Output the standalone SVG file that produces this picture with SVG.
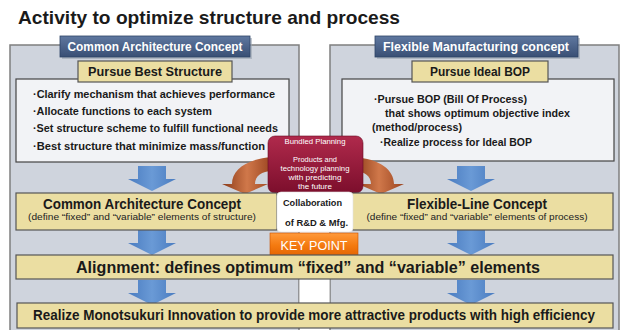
<svg xmlns="http://www.w3.org/2000/svg" width="624" height="330" viewBox="0 0 624 330">
<style>
.t{font-family:"Liberation Sans",Arial,sans-serif;font-weight:bold;fill:#1a1a1a}
.w{fill:#ffffff}
.panel{fill:#cfd4dd;stroke:#7f7f7f;stroke-width:1.5}
.gold{fill:#ebdea2;stroke:#555;stroke-width:1.2}
.inner{fill:#f2f3f6;stroke:#444;stroke-width:1.2}
.tab{fill:url(#tabg);stroke:#2e4466;stroke-width:0.8}
</style>
<defs>
<linearGradient id="tabg" x1="0" y1="0" x2="0" y2="1"><stop offset="0" stop-color="#5f78a0"/><stop offset="1" stop-color="#394f74"/></linearGradient>
<linearGradient id="blue" x1="0" y1="0" x2="1" y2="0"><stop offset="0" stop-color="#4a7cc0"/><stop offset="0.5" stop-color="#6a9ad6"/><stop offset="1" stop-color="#4a7cc0"/></linearGradient>
<linearGradient id="brown" x1="0" y1="0" x2="1" y2="0"><stop offset="0" stop-color="#8a3a18"/><stop offset="0.5" stop-color="#d0784a"/><stop offset="1" stop-color="#9a4420"/></linearGradient>
<linearGradient id="maroon" x1="0" y1="0" x2="0" y2="1"><stop offset="0" stop-color="#b02a4c"/><stop offset="1" stop-color="#7c0e2c"/></linearGradient>
<linearGradient id="orange" x1="0" y1="0" x2="0" y2="1"><stop offset="0" stop-color="#ff9a3c"/><stop offset="0.5" stop-color="#f47a10"/><stop offset="1" stop-color="#e06000"/></linearGradient>
<path id="darr" d="M-14,0 H14 V13 H24 L0,25 L-24,13 H-14 Z" fill="url(#blue)"/>
</defs>
<rect width="624" height="330" fill="#ffffff"/>
<text class="t" x="18" y="24" font-size="19" textLength="382" lengthAdjust="spacingAndGlyphs">Activity to optimize structure and process</text>

<g id="left-panel">
<rect class="panel" x="10" y="45" width="289" height="295"/>
<rect class="inner" x="16" y="79" width="273" height="83"/>
<text class="t" font-size="11.5" x="33" y="98" textLength="242" lengthAdjust="spacingAndGlyphs">·Clarify  mechanism that achieves performance</text>
<text class="t" font-size="11.5" x="33" y="115" textLength="179" lengthAdjust="spacingAndGlyphs">·Allocate functions to each system</text>
<text class="t" font-size="11.5" x="33" y="132" textLength="245" lengthAdjust="spacingAndGlyphs">·Set structure scheme to fulfill functional needs</text>
<text class="t" font-size="11.5" x="33" y="150" textLength="232" lengthAdjust="spacingAndGlyphs">·Best structure that minimize mass/function</text>
</g>
<g id="right-panel">
<rect class="panel" x="330" y="45" width="289" height="295"/>
<rect class="inner" x="342" y="79" width="272" height="82"/>
<text class="t" font-size="11.5" x="374" y="103" textLength="153" lengthAdjust="spacingAndGlyphs">·Pursue BOP (Bill Of Process)</text>
<text class="t" font-size="11.5" x="385" y="117" textLength="185" lengthAdjust="spacingAndGlyphs">that shows optimum objective index</text>
<text class="t" font-size="11.5" x="372" y="131" textLength="90" lengthAdjust="spacingAndGlyphs">(method/process)</text>
<text class="t" font-size="11.5" x="380" y="146" textLength="152" lengthAdjust="spacingAndGlyphs">·Realize process for Ideal BOP</text>
</g>

<g id="tab-left">
<rect x="62" y="38" width="190" height="21" fill="#9aa3b0" opacity="0.6"/>
<rect class="tab" x="60" y="36" width="190" height="21"/>
<text class="t w" font-size="12" x="155" y="51" text-anchor="middle" textLength="175" lengthAdjust="spacingAndGlyphs">Common Architecture Concept</text>
</g>
<g id="tab-right">
<rect x="377" y="38" width="203" height="21" fill="#9aa3b0" opacity="0.6"/>
<rect class="tab" x="375" y="36" width="203" height="21"/>
<text class="t w" font-size="12" x="476" y="51" text-anchor="middle" textLength="186" lengthAdjust="spacingAndGlyphs">Flexible Manufacturing concept</text>
</g>
<g id="pursue-best">
<rect class="gold" x="78" y="61" width="154" height="21"/>
<text class="t" font-size="12.5" x="155" y="76" text-anchor="middle" textLength="134" lengthAdjust="spacingAndGlyphs">Pursue Best Structure</text>
</g>
<g id="pursue-bop">
<rect class="gold" x="412" y="61" width="136" height="21"/>
<text class="t" font-size="12.5" x="480" y="76" text-anchor="middle" textLength="100" lengthAdjust="spacingAndGlyphs">Pursue Ideal BOP</text>
</g>

<g id="connectors">
<use href="#darr" x="152" y="166"/>
<use href="#darr" x="471" y="166"/>
<use href="#darr" x="152" y="230"/>
<use href="#darr" x="471" y="230"/>
<use href="#darr" x="152" y="280"/>
<use href="#darr" x="471" y="280"/>
<path d="M232,184 C232,170 246,159 272,157 L272,171 C262,171 255,176 255,184 L268,184 L245,194 L222,184 Z" fill="url(#brown)"/>
<path d="M394,184 C394,170 380,159 354,157 L354,171 C364,171 371,176 371,184 L358,184 L381,194 L404,184 Z" fill="url(#brown)"/>
</g>

<g id="bundled">
<rect x="268" y="136" width="95" height="57" rx="7" fill="url(#maroon)" stroke="#6a0a24" stroke-width="0.6"/>
<g font-family="Liberation Sans,Arial,sans-serif" font-size="7" fill="#ffffff" text-anchor="middle">
<text x="315" y="144" textLength="61" lengthAdjust="spacingAndGlyphs">Bundled Planning</text>
<text x="315" y="162" textLength="44" lengthAdjust="spacingAndGlyphs">Products and</text>
<text x="315" y="171" textLength="69" lengthAdjust="spacingAndGlyphs">technology planning</text>
<text x="315" y="180" textLength="53" lengthAdjust="spacingAndGlyphs">with predicting</text>
<text x="315" y="189" textLength="34" lengthAdjust="spacingAndGlyphs">the future</text>
</g>
</g>

<g id="cac-bar">
<rect class="gold" x="16" y="193" width="261" height="37"/>
<text class="t" font-size="15" x="142" y="209" text-anchor="middle" textLength="198" lengthAdjust="spacingAndGlyphs">Common Architecture Concept</text>
<text font-family="Liberation Sans,Arial,sans-serif" font-size="9" fill="#222" x="142" y="220" text-anchor="middle" textLength="228" lengthAdjust="spacingAndGlyphs">(define “fixed” and “variable” elements of structure)</text>
</g>
<g id="flc-bar">
<rect class="gold" x="340" y="193" width="273" height="37"/>
<text class="t" font-size="15" x="477" y="209" text-anchor="middle" textLength="140" lengthAdjust="spacingAndGlyphs">Flexible-Line Concept</text>
<text font-family="Liberation Sans,Arial,sans-serif" font-size="9" fill="#222" x="477" y="220" text-anchor="middle" textLength="221" lengthAdjust="spacingAndGlyphs">(define “fixed” and “variable” elements of process)</text>
</g>
<g id="collab">
<rect x="277" y="192" width="76" height="40" rx="4" fill="#ffffff" stroke="#e0e0e0" stroke-width="0.6"/>
<text class="t" font-size="8.5" x="283" y="206" textLength="59" lengthAdjust="spacingAndGlyphs">Collaboration</text>
<text class="t" font-size="8.5" x="285" y="226" textLength="63" lengthAdjust="spacingAndGlyphs">of R&amp;D &amp; Mfg.</text>
</g>
<g id="keypoint">
<rect x="270" y="233" width="88" height="25" fill="url(#orange)" stroke="#c85000" stroke-width="0.6"/>
<text font-family="Liberation Sans,Arial,sans-serif" font-size="13" fill="#ffffff" x="314" y="250" text-anchor="middle" textLength="67" lengthAdjust="spacingAndGlyphs">KEY  POINT</text>
</g>

<g id="alignment">
<rect x="299.5" y="279" width="30" height="24" fill="#ffffff"/>
<rect class="gold" x="16" y="255" width="597" height="24"/>
<text class="t" font-size="16.5" x="308" y="273" text-anchor="middle" textLength="464" lengthAdjust="spacingAndGlyphs">Alignment: defines optimum “fixed” and “variable” elements</text>
</g>
<g id="realize">
<rect class="gold" x="17" y="303" width="596" height="25"/>
<text class="t" font-size="14" x="314" y="320" text-anchor="middle" textLength="562" lengthAdjust="spacingAndGlyphs">Realize Monotsukuri Innovation to provide more attractive products with high efficiency</text>
</g>
</svg>
